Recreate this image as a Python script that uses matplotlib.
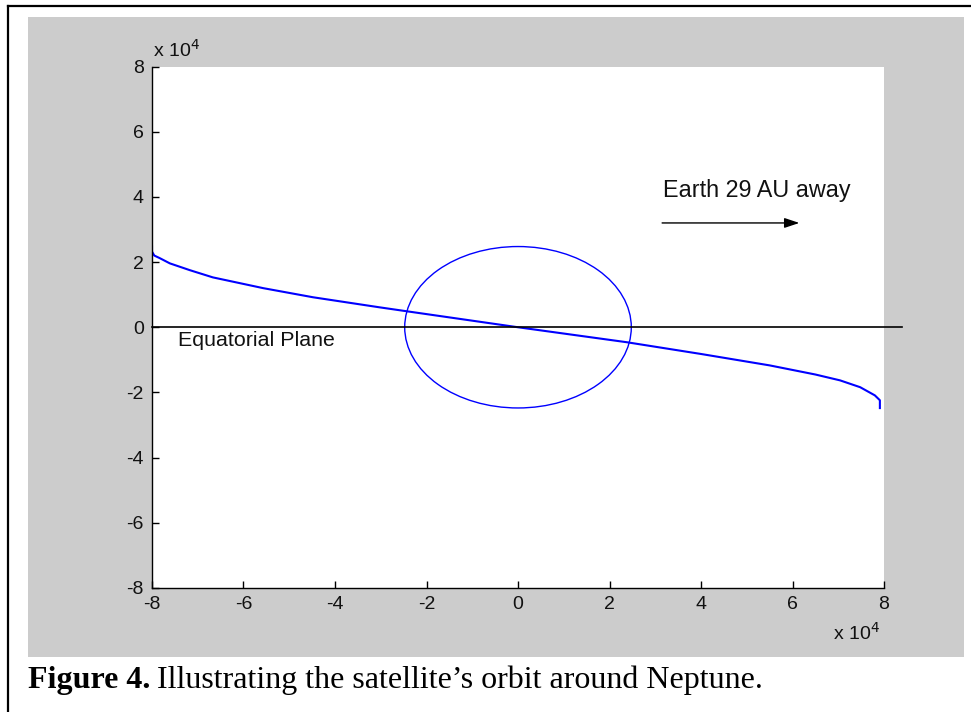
import matplotlib
matplotlib.use("Agg")
import matplotlib.pyplot as plt
from matplotlib.patches import Rectangle, Circle
from matplotlib.lines import Line2D

# orbit track (km)
orbit_x = [-8.0e4, -8.0e4, -7.95e4, -7.83e4, -7.61e4, -7.17e4, -6.67e4, -5.57e4,
           -4.48e4, -3.02e4, -2.43e4, 0.0, 2.38e4, 4.0e4, 5.5e4, 6.5e4,
           7.04e4, 7.48e4, 7.80e4, 7.91e4, 7.91e4]
orbit_y = [2.48e4, 2.32e4, 2.20e4, 2.12e4, 1.96e4, 1.75e4, 1.53e4, 1.20e4,
           0.92e4, 0.61e4, 0.49e4, 0.0, -0.46e4, -0.82e4, -1.17e4, -1.45e4,
           -1.63e4, -1.84e4, -2.09e4, -2.24e4, -2.48e4]
neptune_radius = 24764
plane_x = [-8e4, 8.4e4]
plane_y = [0, 0]
arrow_start = (3.15e4, 3.2e4)
arrow_end = (6.15e4, 3.2e4)
ticks = [-8e4, -6e4, -4e4, -2e4, 0, 2e4, 4e4, 6e4, 8e4]
tick_labels = ["-8", "-6", "-4", "-2", "0", "2", "4", "6", "8"]

W, H = 971, 712
fig = plt.figure(figsize=(W / 100, H / 100), dpi=100)
fig.patch.set_facecolor("white")

# matlab grey figure area
fig.add_artist(Rectangle((28 / W, 1 - 657 / H), 936 / W, 640 / H,
                         transform=fig.transFigure, facecolor="#cccccc",
                         edgecolor="none", zorder=-1))
# page border
fig.add_artist(Line2D([8 / W, 1], [1 - 6 / H, 1 - 6 / H], transform=fig.transFigure,
                      color="black", lw=1.6))
fig.add_artist(Line2D([8 / W, 8 / W], [0, 1 - 6 / H], transform=fig.transFigure,
                      color="black", lw=1.6))

ax = fig.add_axes([152 / W, 1 - 588 / H, 732 / W, 521.5 / H])
ax.set_facecolor("white")
ax.plot(orbit_x, orbit_y, color=(0, 0, 1), lw=1.5)
ax.add_patch(Circle((0, 0), neptune_radius, fill=False, edgecolor=(0, 0, 1), lw=1.0))
ax.plot(plane_x, plane_y, color="black", lw=1.2, clip_on=False)
ax.annotate("", xy=arrow_end, xytext=arrow_start,
            arrowprops=dict(arrowstyle="-|>,head_length=0.9,head_width=0.3",
                            color="black", lw=1.0, shrinkA=0, shrinkB=0))

font = "Liberation Sans"
ax.text(3.17e4, 4.2e4, "Earth 29 AU away", fontsize=16.8, family=font,
        va="center", ha="left", color="#111111")
ax.text(-7.43e4, -0.4e4, "Equatorial Plane", fontsize=15.4, family=font,
        va="center", ha="left", color="#111111")

ax.set_xlim(-8e4, 8e4)
ax.set_ylim(-8e4, 8e4)
ax.set_xticks(ticks)
ax.set_xticklabels(tick_labels)
ax.set_yticks(ticks)
ax.set_yticklabels(tick_labels)
for lab in ax.get_xticklabels() + ax.get_yticklabels():
    lab.set_family(font)
ax.tick_params(direction="in", length=5, width=1, labelsize=14, pad=6,
               colors="black", labelcolor="#111111")
ax.spines["top"].set_visible(False)
ax.spines["right"].set_visible(False)
for s in ("left", "bottom"):
    ax.spines[s].set_linewidth(1.0)

fig.text(153 / W, 1 - 57 / H, r"x 10$^{4}$", fontsize=14, family=font,
         ha="left", va="baseline", color="#111111")
fig.text(833 / W, 1 - 640 / H, r"x 10$^{4}$", fontsize=14, family=font,
         ha="left", va="baseline", color="#111111")

# caption
serif = "Liberation Serif"
cap_y = 1 - 688 / H
t1 = fig.text(28 / W, cap_y, "Figure 4.", fontsize=23, family=serif,
              weight="bold", va="baseline", ha="left")
bb = t1.get_window_extent(renderer=fig.canvas.get_renderer())
fig.text((bb.x1 + 7) / W, cap_y, "Illustrating the satellite\u2019s orbit around Neptune.",
         fontsize=23, family=serif, va="baseline", ha="left")

fig.savefig("out.png", dpi=100)
